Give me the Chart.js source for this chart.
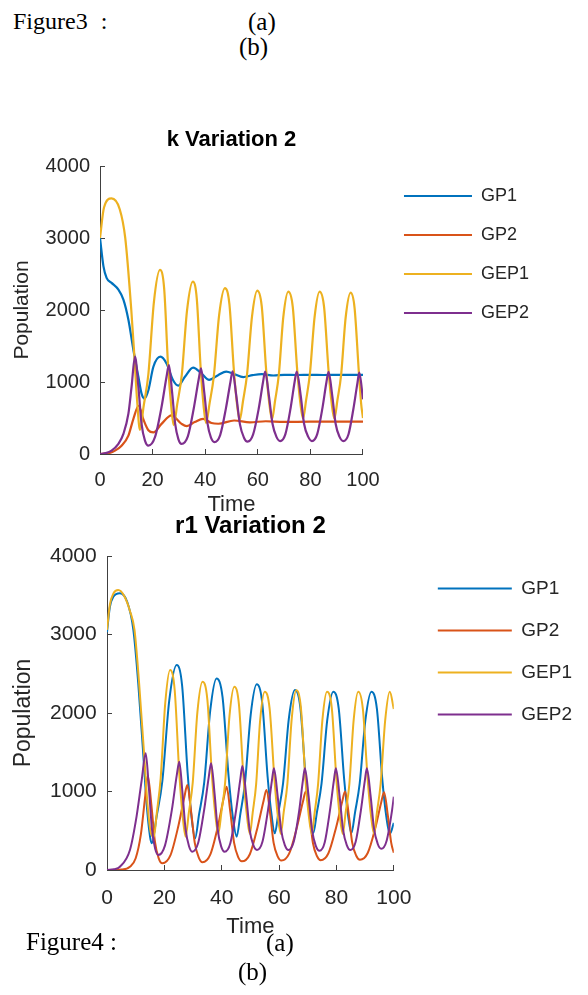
<!DOCTYPE html>
<html><head><meta charset="utf-8">
<script src="https://cdn.jsdelivr.net/npm/chart.js@4/dist/chart.umd.min.js"></script>
<style>
html,body{margin:0;padding:0;background:#fff;width:588px;height:995px;overflow:hidden;position:relative}
canvas{position:absolute;left:0}
#c1{top:120px}
#c2{top:512px;background:#fff}
.cap{position:absolute;font-family:"Liberation Serif","Times New Roman",serif;color:#000;line-height:25px;white-space:nowrap;z-index:5}
</style></head><body>
<div class="cap" style="left:13px;top:9px;font-size:24px;word-spacing:7px">Figure3 :</div>
<div class="cap" style="left:248px;top:9px;font-size:25px">(a)</div>
<div class="cap" style="left:239px;top:34px;font-size:25px">(b)</div>
<canvas id="c1" width="588" height="398"></canvas>
<canvas id="c2" width="588" height="428"></canvas>
<div class="cap" style="left:26px;top:929px;font-size:25px">Figure4 :</div>
<div class="cap" style="left:266px;top:930px;font-size:25px">(a)</div>
<div class="cap" style="left:238px;top:959px;font-size:25px">(b)</div>
<script>
// ---------- series names ----------
const seriesNames = ['GP1', 'GP2', 'GEP1', 'GEP2'];
const xTicks = [0, 20, 40, 60, 80, 100];
const yTicks = [0, 1000, 2000, 3000, 4000];

// ---------- Chart (a): k Variation 2 ----------
const k_GP1_t = [0,1.3,2.5,4.4,7,8.9,10.8,12.7,14.6,15.8,17,18.4,20.3,23,25.3,27.8,29.8,32.3,35.4,38.6,41.5,44.9,48,51,54.5,58,61.5,66,70,75,80,85,90,95,100];
const k_GP1_v = [3000,2610,2447,2377,2283,2144,1864,1445,1072,839,770,885,1212,1352,1258,1025,950,1072,1200,1118,1030,1095,1145,1110,1068,1095,1110,1090,1100,1097,1100,1097,1100,1100,1098];

const k_GP2_t = [0,3,5.7,8.2,10.8,12.7,14.7,16.5,18.4,20.3,23.4,27.2,31,33,36,39.2,42.4,45,51,57,63,70,80,90,100];
const k_GP2_v = [0,8,47,116,256,489,670,480,330,300,419,536,419,387,443,489,430,420,465,440,455,445,450,450,450];

const k_GEP1_t = [0,1.5,4.4,7.5,9.6,11.9,13.0,14.1,15.2,16.6,18.4,20.5,22.8,24.4,25.9,27.1,28.0,29.4,31.1,33.1,35.3,36.8,38.3,39.4,40.3,41.7,43.3,45.3,47.5,49.2,50.9,52.1,53.1,54.4,55.9,57.8,59.8,61.5,63.2,64.4,65.4,66.6,68.0,69.7,71.6,73.3,75.0,76.2,77.2,78.4,79.8,81.6,83.5,85.2,86.9,88.1,89.1,90.3,91.7,93.4,95.3,96.8,98.4,99.3,100];
const k_GEP1_v = [3000,3420,3550,3400,3000,2000,1400,750,333,666,1111,2111,2556,2297,1219,659,400,699,1098,1996,2395,2159,1177,666,430,711,1086,1930,2305,2085,1167,690,470,740,1099,1908,2268,2053,1159,695,480,746,1101,1900,2255,2043,1161,702,490,755,1108,1902,2255,2043,1161,702,490,753,1103,1891,2241,2031,1155,700,500];

const k_GEP2_t = [0,2.2,4.4,7,8.9,10.8,12,13.3,14.6,15.8,17.1,18.4,20.9,23.4,25.3,26.2,27.4,28.6,29.8,31.0,33.4,35.7,37.5,38.4,39.7,40.9,42.2,43.5,45.7,47.9,49.6,50.4,51.8,53.2,54.7,56.1,58.2,60.4,62.0,62.8,64.2,65.6,67.1,68.5,70.5,72.5,74.0,74.8,76.3,77.6,79.2,80.6,82.6,84.6,86.1,86.9,88.3,89.6,91.1,92.5,94.5,96.4,97.9,98.6,100];
const k_GEP2_v = [0,12,47,140,280,560,932,1352,932,419,186,116,233,652,1072,1235,863,414,206,140,245,643,1031,1188,840,421,226,165,263,637,1001,1148,816,415,230,171,268,639,1000,1145,817,421,238,180,277,643,1000,1145,817,421,238,180,276,641,996,1140,814,420,238,180,275,636,988,1130,760];

// ---------- Chart (b): r1 Variation 2 ----------
const r_GP1_t = [0,1.0,2.2,4.5,7,9.2,10.9,12.7,13.8,15.0,15.6,17.3,19.3,21.7,24.3,26.2,28.1,29.5,30.7,32.1,33.9,36.0,38.2,40.3,42.4,43.9,45.2,46.5,48.1,50.1,52.2,54.1,56.0,57.4,58.5,59.8,61.4,63.4,65.5,67.4,69.3,70.7,71.9,73.2,74.8,76.8,78.9,80.8,82.7,84.1,85.2,86.5,88.1,90.1,92.2,94.1,96.0,97.4,98.6,100];
const r_GP1_v = [3030,3350,3480,3524,3420,3057,2378,1444,850,425,340,681,1135,2157,2611,2346,1242,668,403,709,1116,2033,2441,2199,1191,667,425,716,1104,1977,2365,2137,1188,695,467,741,1106,1928,2293,2074,1161,686,467,738,1099,1911,2272,2055,1153,684,467,738,1099,1911,2272,2055,1149,677,460,600];

const r_GP2_t = [0,5,8,10,11.8,13.2,14.2,15.5,16.7,18.0,19.3,22.1,24.9,27.0,28.0,29.3,30.6,32.0,33.3,36.0,38.7,40.7,41.7,43.0,44.3,45.7,47.0,49.8,52.5,54.6,55.6,56.9,58.1,59.5,60.8,63.5,66.2,68.3,69.3,70.6,71.8,73.2,74.5,77.2,79.9,82.0,83.0,84.3,85.5,86.9,88.2,90.9,93.6,95.6,96.6,97.9,99.1,100];
const r_GP2_v = [0,5,40,150,450,900,1200,821,364,152,85,185,564,933,1083,749,346,159,100,196,561,917,1061,738,348,167,110,201,546,883,1019,713,345,174,120,208,542,868,1000,703,344,178,125,213,545,869,1000,704,348,182,130,216,543,861,990,698,345,220];

const r_GEP1_t = [0,1.0,2.2,3.9,6,8,9.6,11.2,13.0,14.1,15.3,16.3,17.4,18.7,20.3,22.0,23.6,25.2,26.4,27.4,28.5,29.9,31.5,33.3,35.0,36.6,37.8,38.8,39.9,41.2,42.7,44.4,46.0,47.6,48.8,49.8,50.8,52.0,53.4,55.0,56.7,58.4,59.6,60.6,61.6,62.9,64.4,66.0,67.6,69.2,70.4,71.4,72.4,73.6,75.1,76.7,78.4,80.0,81.2,82.2,83.2,84.5,86.0,87.6,89.2,90.9,92.1,93.1,94.1,95.4,97.0,98.6,100];
const r_GEP1_v = [3060,3380,3520,3566,3490,3300,3057,2378,1444,850,470,420,739,1165,2122,2548,2293,1232,680,425,721,1116,2004,2399,2166,1197,693,460,741,1116,1960,2335,2110,1172,685,460,732,1094,1910,2272,2055,1149,677,460,735,1101,1924,2290,2070,1155,680,460,732,1094,1910,2272,2055,1149,677,460,732,1094,1910,2272,2055,1149,677,460,732,1094,1910,2272,2050];

const r_GEP2_t = [0,2.5,4.5,8.0,10.3,12.1,13.5,14.6,15.7,16.8,17.9,20.2,22.6,24.3,25.2,26.3,27.4,28.6,29.7,31.8,33.9,35.5,36.3,37.5,38.6,39.8,41.0,43.0,45.0,46.5,47.2,48.5,49.7,51.0,52.3,54.2,56.1,57.5,58.2,59.5,60.7,62.0,63.3,65.1,67.0,68.3,69.0,70.3,71.5,72.8,74.1,75.9,77.7,79.1,79.8,81.1,82.3,83.6,84.9,86.7,88.5,89.9,90.6,91.9,93.1,94.4,95.6,97.5,99.4,100];
const r_GEP2_v = [0,10,42,255,680,1146,1486,1046,515,269,191,310,762,1202,1380,990,520,302,233,346,773,1190,1359,976,515,301,233,342,757,1161,1325,961,522,319,255,359,754,1139,1295,941,515,317,255,359,754,1139,1295,938,508,308,245,350,749,1138,1295,941,515,317,255,359,754,1139,1295,946,526,331,270,373,762,934];

// ---------- drawing ----------
const FONT = '"Liberation Sans", Arial, Helvetica, sans-serif';
const COLORS = ['#0072BD', '#D95319', '#EDB120', '#7E2F8E'];
const TXT = '#262626';
const AXIS = '#404040';

function pts(t, v) { return t.map((x, i) => ({x: x, y: v[i]})); }

function build(id, c) {
  const datasets = seriesNames.map((name, i) => ({
    label: name,
    data: pts(c.t[i], c.v[i]),
    borderColor: COLORS[i],
    backgroundColor: COLORS[i],
    borderWidth: c.lw,
    pointRadius: 0,
    pointHoverRadius: 0,
    cubicInterpolationMode: 'monotone',
    fill: false,
    order: 4 - i
  }));
  return new Chart(document.getElementById(id), {
    type: 'line',
    data: {datasets: datasets},
    options: {
      responsive: false,
      animation: false,
      events: [],
      layout: {padding: {left: 0, right: c.padR, top: 0, bottom: 0}},
      plugins: {
        title: {display: true, text: c.title, fullSize: false, color: '#000',
          font: {family: FONT, size: c.titleSize, weight: 'bold'},
          padding: {top: c.titleTop, bottom: c.titleBottom}},
        legend: {display: true, position: 'right', align: 'start', fullSize: false, maxWidth: 999,
          labels: {usePointStyle: true, pointStyle: 'line', pointStyleWidth: c.lineLen,
            padding: c.legPad, color: TXT, font: {family: FONT, size: c.legFont},
            sort: (a, b) => a.datasetIndex - b.datasetIndex}},
        tooltip: {enabled: false}
      },
      scales: {
        x: {type: 'linear', position: 'bottom', min: xTicks[0], max: xTicks[xTicks.length - 1],
          afterFit: s => { s.height = c.xH; },
          afterBuildTicks: s => { s.ticks = xTicks.map(v => ({value: v})); },
          ticks: {color: TXT, font: {family: FONT, size: c.tickFont}, padding: c.xTickPad,
            maxRotation: 0, autoSkip: false, callback: v => String(v)},
          grid: {display: true, drawOnChartArea: false, drawTicks: true, tickLength: -5, color: AXIS, lineWidth: 1},
          border: {display: true, color: AXIS, width: 1},
          title: {display: true, text: 'Time', color: TXT, font: {family: FONT, size: c.xTitleFont},
            padding: {top: 0, bottom: 0}}},
        y: {type: 'linear', position: 'left', min: yTicks[0], max: yTicks[yTicks.length - 1],
          afterFit: s => { s.width = c.yW; },
          afterBuildTicks: s => { s.ticks = yTicks.map(v => ({value: v})); },
          ticks: {color: TXT, font: {family: FONT, size: c.tickFont}, padding: c.yTickPad,
            autoSkip: false, callback: v => String(v)},
          grid: {display: true, drawOnChartArea: false, drawTicks: true, tickLength: -5, color: AXIS, lineWidth: 1},
          border: {display: true, color: AXIS, width: 1},
          title: {display: true, text: 'Population', color: TXT, font: {family: FONT, size: c.yTitleFont},
            padding: {top: c.yTitlePad, bottom: 0}}},
        gap: {type: 'linear', position: 'right', display: true,
          afterFit: s => { s.width = c.gap; },
          ticks: {display: false}, grid: {display: false}, border: {display: false}}
      }
    }
  });
}

build('c1', {
  t: [k_GP1_t, k_GP2_t, k_GEP1_t, k_GEP2_t],
  v: [k_GP1_v, k_GP2_v, k_GEP1_v, k_GEP2_v],
  title: 'k Variation 2', titleSize: 22, titleTop: 7, titleBottom: 12.6,
  lw: 2.2, padR: 49, legFont: 18, legPad: 21, lineLen: 68, gap: 20,
  yW: 100, xH: 64, tickFont: 20, xTickPad: 19, yTickPad: 15,
  xTitleFont: 22, yTitleFont: 21, yTitlePad: 9.4
});

build('c2', {
  t: [r_GP1_t, r_GP2_t, r_GEP1_t, r_GEP2_t],
  v: [r_GP1_v, r_GP2_v, r_GEP1_v, r_GEP2_v],
  title: 'r1 Variation 2', titleSize: 24, titleTop: 0, titleBottom: 15.2,
  lw: 2, padR: 6, legFont: 19, legPad: 23, lineLen: 74, gap: 21,
  yW: 107, xH: 70, tickFont: 21, xTickPad: 21, yTickPad: 15.3,
  xTitleFont: 22, yTitleFont: 23, yTitlePad: 10.2
});
</script>
</body></html>
